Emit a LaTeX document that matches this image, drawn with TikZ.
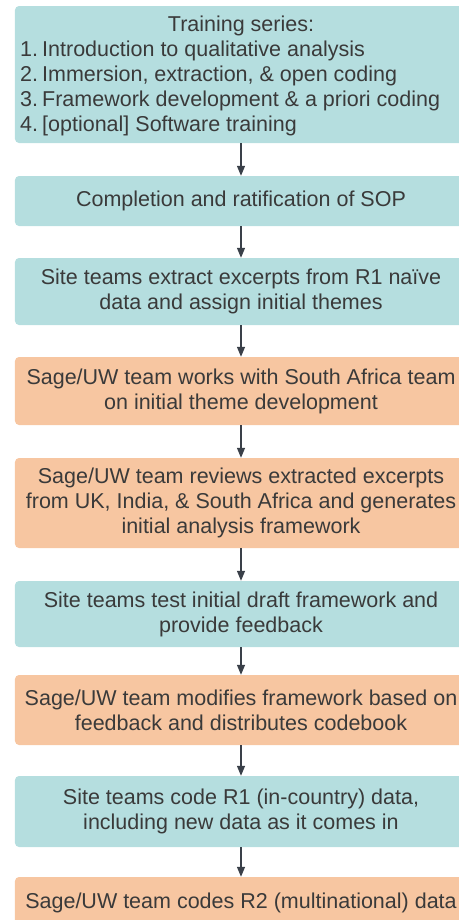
\documentclass[tikz,border=0pt]{standalone}
\usepackage{fontspec}
\setmainfont{Liberation Sans}
\usetikzlibrary{arrows.meta}
\definecolor{tealbox}{HTML}{B5DEDF}
\definecolor{orangebox}{HTML}{F7C6A1}
\definecolor{inktext}{HTML}{3A3A3A}
\definecolor{inkarrow}{HTML}{3A4049}
\begin{document}
\begin{tikzpicture}[x=1bp,y=-1bp,
  box/.style={rectangle, rounded corners=4bp, draw=none, minimum width=452bp,
    inner sep=0pt, align=center, text=inktext,
    font=\fontsize{21.5bp}{25bp}\selectfont},
  sitebox/.style={box, fill=tealbox},
  sagebox/.style={box, fill=orangebox},
  txt/.style={inner sep=0pt, text=inktext, font=\fontsize{21.5bp}{25bp}\selectfont},
  flow/.style={draw=inkarrow, line width=1.3bp, -{Triangle[length=10bp,width=8bp]}}
]
\useasboundingbox (0,0) rectangle (459,920);

% Step 1: training series
\node[sitebox, minimum height=137bp] (b1) at (241,74.5) {};
\node[txt] (t1) at (241,26) {Training series:};
\node[txt, anchor=north west, align=left] (t1list) at (20,41)
  {\makebox[22bp][l]{1.}Introduction to qualitative analysis\\
   \makebox[22bp][l]{2.}Immersion, extraction, \& open coding\\
   \makebox[22bp][l]{3.}Framework development \& a priori coding\\
   \makebox[22bp][l]{4.}[optional] Software training};

% Remaining steps
\node[sitebox, minimum height=50bp] (b2) at (241,201) {Completion and ratification of SOP};
\node[sitebox, minimum height=67bp] (b3) at (241,291.5)
  {Site teams extract excerpts from R1 naïve\\data and assign initial themes};
\node[sagebox, minimum height=68bp] (b4) at (241,391)
  {Sage/UW team works with South Africa team\\on initial theme development};
\node[sagebox, minimum height=90bp] (b5) at (241,503)
  {Sage/UW team reviews extracted excerpts\\from UK, India, \& South Africa and generates\\initial analysis framework};
\node[sitebox, minimum height=66bp] (b6) at (241,614)
  {Site teams test initial draft framework and\\provide feedback};
\node[sagebox, minimum height=70bp] (b7) at (241,710)
  {Sage/UW team modifies framework based on\\feedback and distributes codebook};
\node[sitebox, minimum height=71bp] (b8) at (241,811.5)
  {Site teams code R1 (in-country) data,\\including new data as it comes in};
\node[sagebox, minimum height=52bp] (b9) at (241,903)
  {Sage/UW team codes R2 (multinational) data};

% Connectors
\foreach \a/\b in {b1/b2,b2/b3,b3/b4,b4/b5,b5/b6,b6/b7,b7/b8,b8/b9}
  \draw[flow] (\a.south) -- (\b.north);
\end{tikzpicture}
\end{document}
